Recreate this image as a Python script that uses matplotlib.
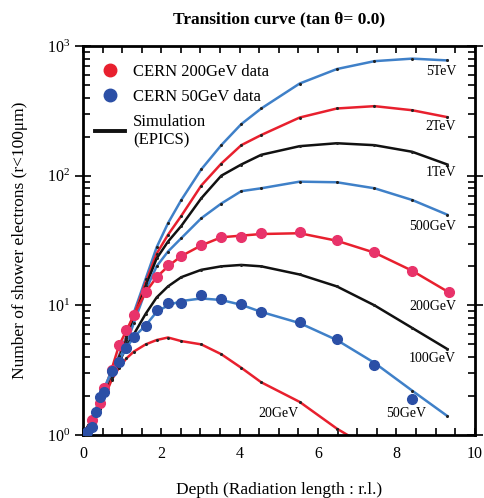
import matplotlib
matplotlib.use("Agg")
import matplotlib.pyplot as plt
from matplotlib.lines import Line2D
from matplotlib.ticker import MultipleLocator, LogLocator, NullFormatter

plt.rcParams['font.family'] = ['Liberation Serif', 'DejaVu Serif']
plt.rcParams['mathtext.fontset'] = 'stix'

# depths where the simulation was sampled (r.l.)
sim_depth = [0, 0.22, 0.43, 0.73, 0.92, 1.11, 1.30, 1.60, 1.88, 2.17, 2.51,
             3.02, 3.53, 4.04, 4.55, 5.53, 6.48, 7.44, 8.40, 9.30]

sim_5tev = [1, 1.3, 1.75, 2.9, 4.1, 5.8, 8.8, 16, 28, 43, 65,
            112, 172, 250, 330, 514, 665, 765, 800, 775]
sim_2tev = [1, 1.3, 1.75, 2.9, 4.0, 5.6, 8.3, 15, 25, 35, 49,
            84, 124, 172, 206, 281, 330, 344, 320, 283]
sim_1tev = [1, 1.3, 1.72, 2.85, 3.9, 5.4, 7.8, 14, 23, 31, 41,
            67, 100, 122, 145, 169, 178, 172, 153, 122]
sim_500gev = [1, 1.3, 1.7, 2.8, 3.8, 5.1, 7.3, 13, 20, 26, 33,
              47, 61, 76, 80, 90, 89, 80, 65, 50]
sim_200gev = [1, 1.3, 1.75, 3.2, 4.9, 6.4, 8.4, 12.6, 16.5, 20, 24,
              29, 33.5, 34.5, 35.5, 36, 31.5, 25.5, 18.5, 12.8]
sim_100gev = [1, 1.3, 1.7, 2.7, 3.6, 4.8, 6.0, 8.6, 11.5, 14, 16.5,
              18.8, 20, 20.5, 20, 17.3, 14, 10, 6.7, 4.6]
sim_50gev = [1, 1.27, 1.93, 3.1, 3.75, 4.7, 5.7, 7.0, 8.9, 10.0, 10.8,
             11.3, 11.0, 10.1, 8.9, 7.3, 5.4, 3.6, 2.2, 1.4]
sim_20gev = [1, 1.25, 1.6, 2.65, 3.3, 3.9, 4.4, 5.0, 5.4, 5.65, 5.3,
             5.0, 4.2, 3.3, 2.55, 1.8, 1.12, 0.75, 0.5, 0.35]

# CERN beam data
cern200_depth = [0.22, 0.43, 0.53, 0.73, 0.92, 1.11, 1.30, 1.60, 1.88, 2.17,
                 2.51, 3.02, 3.53, 4.04, 4.55, 5.53, 6.48, 7.44, 8.40, 9.35]
cern200_n = [1.3, 1.75, 2.29, 3.2, 4.94, 6.45, 8.4, 12.7, 16.5, 20.3,
             24.0, 29.2, 33.4, 33.8, 35.9, 36.5, 31.9, 25.9, 18.5, 12.6]

cern50_depth = [0, 0.11, 0.22, 0.33, 0.43, 0.53, 0.73, 0.92, 1.11, 1.30, 1.60,
                1.88, 2.17, 2.51, 3.02, 3.53, 4.04, 4.55, 5.53, 6.48, 7.44, 8.40]
cern50_n = [1.0, 1.06, 1.16, 1.51, 1.95, 2.16, 3.11, 3.67, 4.66, 5.67, 6.96,
            9.2, 10.5, 10.4, 12.0, 11.1, 10.2, 8.9, 7.48, 5.47, 3.47, 1.88]

blue = '#3f80c8'
red = '#e8202e'
black = '#111111'
pink = '#e8336a'
dblue = '#2b4fa6'

curves = [(sim_5tev, blue), (sim_2tev, red), (sim_1tev, black), (sim_500gev, blue),
          (sim_200gev, red), (sim_100gev, black), (sim_50gev, blue), (sim_20gev, red)]
labels = [('5TeV', 9.52, 632, 'right'), ('2TeV', 9.52, 241, 'right'),
          ('1TeV', 9.52, 105, 'right'), ('500GeV', 9.52, 40.9, 'right'),
          ('200GeV', 9.52, 9.76, 'right'), ('100GeV', 9.52, 3.9, 'right'),
          ('50GeV', 8.24, 1.47, 'center'), ('20GeV', 4.98, 1.47, 'center')]

fig = plt.figure(figsize=(4.85, 4.98), dpi=100)
ax = fig.add_axes([0.171, 0.1265, 0.808, 0.781])

for vals, col in curves:
    ax.plot(sim_depth, vals, color=col, lw=1.8, zorder=2)
    ax.plot(sim_depth, vals, ls='none', marker='o', ms=1.2, color='#222222', zorder=3)

ax.plot(cern200_depth, cern200_n, ls='none', marker='o', ms=7, color=pink, zorder=4)
ax.plot(cern50_depth, cern50_n, ls='none', marker='o', ms=7, color=dblue, zorder=4)

for txt, x, y, ha in labels:
    ax.text(x, y, txt, ha=ha, va='center', fontsize=10)

ax.set_yscale('log')
ax.set_xlim(0, 10)
ax.set_ylim(1, 1000)
ax.xaxis.set_major_locator(MultipleLocator(2))
ax.xaxis.set_minor_locator(MultipleLocator(0.5))
ax.yaxis.set_major_locator(LogLocator(base=10))
ax.yaxis.set_minor_locator(LogLocator(base=10, subs=range(2, 10)))
ax.yaxis.set_minor_formatter(NullFormatter())
ax.tick_params(axis='x', which='both', direction='in', top=True, length=5, width=1.2, labelsize=11.5, pad=8)
ax.tick_params(axis='y', which='major', direction='inout', right=True, length=11, width=1.2, labelsize=11.5)
ax.tick_params(axis='y', which='minor', direction='in', right=True, length=5, width=1.2)
for s in ax.spines.values():
    s.set_linewidth(2)

ax.set_xlabel('Depth (Radiation length : r.l.)', fontsize=12.5, labelpad=14)
ax.set_ylabel('Number of shower electrons (r<100μm)', fontsize=12.5, labelpad=14)
ax.set_title('Transition curve (tan θ= 0.0)', fontsize=12.5, fontweight='bold', pad=16)

handles = [Line2D([], [], ls='none', marker='o', ms=9, color=red),
           Line2D([], [], ls='none', marker='o', ms=9, color=dblue),
           Line2D([], [], color=black, lw=2.8)]
ax.legend(handles, ['CERN 200GeV data', 'CERN 50GeV data', 'Simulation\n(EPICS)'],
          loc='upper left', bbox_to_anchor=(0.0, 0.985), frameon=False, fontsize=12,
          handlelength=1.8, handletextpad=0.5, labelspacing=0.55, borderaxespad=0.3,
          borderpad=0.4)

fig.savefig('out.png', dpi=100)
